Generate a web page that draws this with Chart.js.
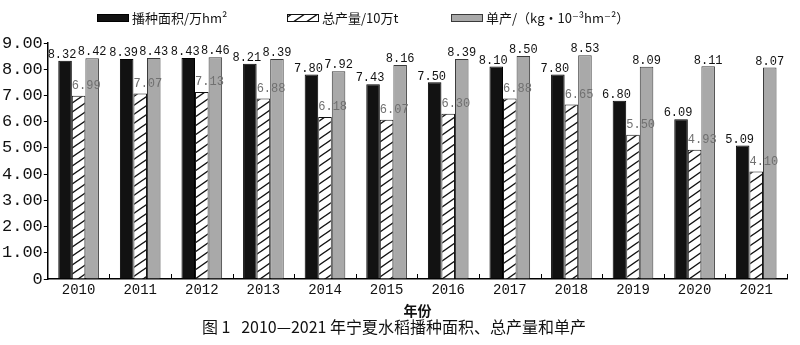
<!DOCTYPE html>
<html>
<head>
<meta charset="utf-8">
<script src="https://cdn.jsdelivr.net/npm/chart.js@4.4.1/dist/chart.umd.min.js"></script>
<style>
  html, body { margin: 0; padding: 0; background: #fff; }
  #contenedor { width: 800px; height: 345px; }
</style>
</head>
<body>
<div id="contenedor"><canvas id="graficoArroz"></canvas></div>
<script>
// Datos de la grafica (años 2010-2021)
const anios = ["2010", "2011", "2012", "2013", "2014", "2015", "2016", "2017", "2018", "2019", "2020", "2021"];
const areaSiembra = [8.32, 8.39, 8.43, 8.21, 7.80, 7.43, 7.50, 8.10, 7.80, 6.80, 6.09, 5.09];
const produccionTotal = [6.99, 7.07, 7.13, 6.88, 6.18, 6.07, 6.30, 6.88, 6.65, 5.50, 4.93, 4.10];
const rendimiento = [8.42, 8.43, 8.46, 8.39, 7.92, 8.16, 8.39, 8.50, 8.53, 8.09, 8.11, 8.07];
const nombresSeries = ["播种面积/万hm²", "总产量/10万t", "单产/（kg·10⁻³hm⁻²）"];
const ticksY = [0, 1, 2, 3, 4, 5, 6, 7, 8, 9];
const tituloEjeX = "年份";
const tituloFigura = "图 1   2010—2021 年宁夏水稻播种面积、总产量和单产";

const fuenteNum = "'Liberation Mono', 'DejaVu Sans Mono', monospace";
const fuenteCJK = "'Noto Sans CJK SC', 'DejaVu Sans', sans-serif";

// Patron rayado para la serie de produccion
function crearRayado() {
  const c = document.createElement("canvas");
  c.width = 13;
  c.height = 9;
  const g = c.getContext("2d");
  g.fillStyle = "#fff";
  g.fillRect(0, 0, 13, 9);
  g.strokeStyle = "#111";
  g.lineWidth = 1.4;
  g.beginPath();
  g.moveTo(-13, 18); g.lineTo(26, -9);
  g.moveTo(-26, 18); g.lineTo(13, -9);
  g.moveTo(0, 18); g.lineTo(39, -9);
  g.stroke();
  return g.createPattern(c, "repeat");
}
const rayado = crearRayado();

const coloresRelleno = ["#121212", rayado, "#a9a9a9"];
const coloresBorde = ["#000", "#111", "#3a3a3a"];

// Etiquetas con el valor encima de cada barra
const etiquetasValores = {
  id: "etiquetasValores",
  afterDatasetsDraw(chart) {
    const ctx = chart.ctx;
    ctx.save();
    ctx.font = "12px " + fuenteNum;
    ctx.textBaseline = "bottom";
    chart.data.datasets.forEach((ds, d) => {
      const meta = chart.getDatasetMeta(d);
      meta.data.forEach((barra, i) => {
        const txt = ds.data[i].toFixed(2);
        if (d == 1) {
          ctx.fillStyle = "#707070";
          ctx.textAlign = "left";
          ctx.fillText(txt, barra.x - barra.width / 2, barra.y - 4);
        } else {
          ctx.fillStyle = "#111";
          ctx.textAlign = "center";
          ctx.fillText(txt, barra.x - (d == 0 ? 3 : 0), barra.y);
        }
      });
    });
    ctx.restore();
  },
};

// Marcas pequeñas hacia arriba entre categorias del eje X
const marcasEjeX = {
  id: "marcasEjeX",
  afterDraw(chart) {
    const escala = chart.scales.x;
    const ctx = chart.ctx;
    const ancho = (escala.right - escala.left) / anios.length;
    ctx.save();
    ctx.strokeStyle = "#000";
    ctx.lineWidth = 1;
    for (var i = 1; i <= anios.length; i++) {
      const px = Math.round(escala.left + ancho * i) + 0.5;
      ctx.beginPath();
      ctx.moveTo(px, escala.top);
      ctx.lineTo(px, escala.top - 5);
      ctx.stroke();
    }
    ctx.restore();
  },
};

// Leyenda dibujada en la parte superior
const leyenda = {
  id: "leyenda",
  afterDraw(chart) {
    const ctx = chart.ctx;
    const posiciones = [97, 287, 451];
    ctx.save();
    ctx.font = "13px " + fuenteCJK;
    ctx.textBaseline = "middle";
    ctx.textAlign = "left";
    nombresSeries.forEach((nombre, k) => {
      const x = posiciones[k];
      ctx.fillStyle = coloresRelleno[k];
      ctx.fillRect(x, 14, 32, 8);
      ctx.strokeStyle = coloresBorde[k];
      ctx.lineWidth = 1;
      ctx.strokeRect(x + 0.5, 14.5, 31, 7);
      ctx.fillStyle = "#111";
      ctx.fillText(nombre, x + 35, 18);
    });
    ctx.restore();
  },
};

const datasets = [areaSiembra, produccionTotal, rendimiento].map((serie, k) => ({
  label: nombresSeries[k],
  data: serie,
  backgroundColor: coloresRelleno[k],
  borderColor: coloresBorde[k],
  borderWidth: 1,
  borderSkipped: "bottom",
  categoryPercentage: 0.66,
  barPercentage: 1.0,
}));

new Chart(document.getElementById("graficoArroz"), {
  type: "bar",
  data: { labels: anios, datasets: datasets },
  options: {
    responsive: true,
    maintainAspectRatio: false,
    animation: false,
    layout: { padding: { top: 43, right: 13, left: 1, bottom: 6 } },
    plugins: {
      legend: { display: false },
      tooltip: { enabled: false },
      title: {
        display: true,
        position: "bottom",
        text: tituloFigura,
        color: "#111",
        font: { family: fuenteCJK, size: 16, weight: "normal" },
        padding: { top: 0, bottom: 2 },
      },
    },
    scales: {
      x: {
        grid: { display: true, drawOnChartArea: false, drawTicks: false },
        border: { display: true, color: "#000", width: 1.5 },
        ticks: {
          color: "#111",
          padding: 3,
          font: { family: fuenteNum, size: 14 },
        },
        title: {
          display: true,
          text: tituloEjeX,
          color: "#111",
          font: { family: fuenteCJK, size: 14, weight: "bold", lineHeight: 1 },
          padding: { top: 2, bottom: 0 },
        },
      },
      y: {
        min: 0,
        max: 9,
        afterBuildTicks: (escala) => {
          escala.ticks = ticksY.map((v) => ({ value: v }));
        },
        grid: { drawOnChartArea: false, drawTicks: true, tickLength: 4, color: "#000" },
        border: { display: true, color: "#000", width: 1.5 },
        ticks: {
          color: "#111",
          padding: 1,
          font: { family: fuenteNum, size: 17 },
          callback: (v) => (v == 0 ? "0" : Number(v).toFixed(2)),
        },
      },
    },
  },
  plugins: [etiquetasValores, marcasEjeX, leyenda],
});
</script>
</body>
</html>
